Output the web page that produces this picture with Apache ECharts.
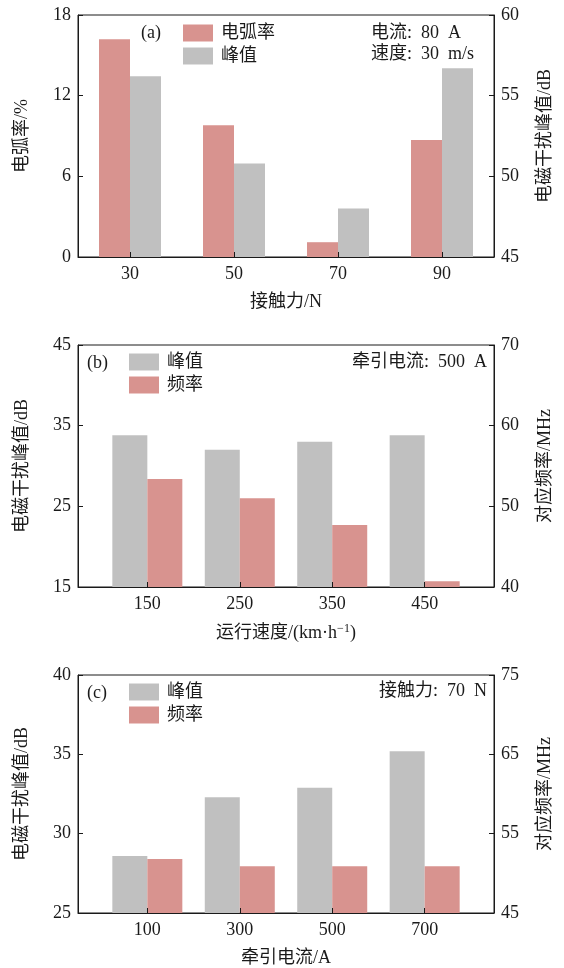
<!DOCTYPE html>
<html>
<head>
<meta charset="utf-8">
<script src="https://cdn.jsdelivr.net/npm/echarts@6/dist/echarts.min.js"></script>
<style>
  html, body { margin: 0; padding: 0; background: #fff; }
  #chart { width: 564px; height: 968px; }
</style>
</head>
<body>
<div id="chart"></div>
<script>
// (a) arc rate and EMI peak vs. contact force
const forceCats = ['30', '50', '70', '90'];
const arcRate = [16.2, 9.8, 1.1, 8.7];
const peakA = [56.2, 50.8, 48.0, 56.7];

// (b) EMI peak and corresponding frequency vs. running speed
const speeds = [150, 250, 350, 450];
const peakB = [33.8, 32.0, 33.0, 33.8];
const freqB = [53.4, 51.0, 47.7, 40.7];

// (c) EMI peak and corresponding frequency vs. traction current
const currents = [100, 300, 500, 700];
const peakC = [28.6, 32.3, 32.9, 35.2];
const freqC = [51.8, 50.9, 50.9, 50.9];

const RED = '#d8938f';
const GREY = '#c0c0c0';
const INK = '#1a1a1a';
const FONT = "'Liberation Serif', 'Noto Sans CJK SC', serif";
const FS = 18;
const SP = '  '; // wide word space, as in the typeset notes

const chart = echarts.init(document.getElementById('chart'), null, { renderer: 'canvas' });

const gridTops = [15, 345, 675];
const grids = gridTops.map(t => ({
  left: 78, right: 70, top: t, height: 242,
  show: true, borderColor: INK, borderWidth: 1, backgroundColor: 'transparent'
}));

function yAxis(gi, pos, min, max, interval, name, nameGap) {
  return {
    type: 'value', gridIndex: gi, position: pos, min, max, interval, z: 10,
    name, nameLocation: 'middle', nameGap,
    nameTextStyle: { fontFamily: FONT, fontSize: FS, color: INK },
    axisLine: { show: true, onZero: false, lineStyle: { color: INK, width: 1 } },
    axisTick: { show: true, inside: true, length: 5, lineStyle: { color: INK } },
    axisLabel: { fontFamily: FONT, fontSize: FS, color: INK, margin: 7 },
    splitLine: { show: false }
  };
}

const xBase = {
  z: 10, nameLocation: 'middle', nameGap: 36,
  nameTextStyle: { fontFamily: FONT, fontSize: FS, color: INK,
    rich: { sup: { fontFamily: FONT, fontSize: 12, color: INK, verticalAlign: 'top', padding: [0, 0, 8, 0] } } },
  axisLine: { show: true, onZero: false, lineStyle: { color: INK, width: 1 } },
  axisLabel: { fontFamily: FONT, fontSize: FS, color: INK, margin: 8 },
  splitLine: { show: false }
};

const xAxes = [
  Object.assign({}, xBase, {
    type: 'category', gridIndex: 0, data: forceCats, name: '接触力/N',
    axisTick: { show: true, inside: true, length: 5, alignWithLabel: true, lineStyle: { color: INK } }
  }),
  Object.assign({}, xBase, {
    type: 'value', gridIndex: 1, min: 75, max: 525, name: '运行速度/(km·h{sup|−1})',
    axisLabel: Object.assign({}, xBase.axisLabel, { customValues: speeds }),
    axisTick: { show: true, inside: true, length: 5, customValues: speeds, lineStyle: { color: INK } }
  }),
  Object.assign({}, xBase, {
    type: 'value', gridIndex: 2, min: -50, max: 850, name: '牵引电流/A',
    axisLabel: Object.assign({}, xBase.axisLabel, { customValues: currents }),
    axisTick: { show: true, inside: true, length: 5, customValues: currents, lineStyle: { color: INK } }
  })
];

const yAxes = [
  yAxis(0, 'left', 0, 18, 6, '电弧率/%', 47),
  yAxis(0, 'right', 45, 60, 5, '电磁干扰峰值/dB', 42),
  yAxis(1, 'left', 15, 45, 10, '电磁干扰峰值/dB', 47),
  yAxis(1, 'right', 40, 70, 10, '对应频率/MHz', 42),
  yAxis(2, 'left', 25, 40, 5, '电磁干扰峰值/dB', 47),
  yAxis(2, 'right', 45, 75, 10, '对应频率/MHz', 42)
];

function bar(name, color, xi, yi, data, width) {
  return {
    type: 'bar', name, xAxisIndex: xi, yAxisIndex: yi, data,
    barWidth: width, barGap: '0%', itemStyle: { color }, silent: true, z: 2
  };
}
const pairs = (xs, ys) => xs.map((x, i) => [x, ys[i]]);

const series = [
  bar('电弧率', RED, 0, 0, arcRate, 31),
  bar('峰值', GREY, 0, 1, peakA, 31),
  bar('峰值', GREY, 1, 2, pairs(speeds, peakB), 35),
  bar('频率', RED, 1, 3, pairs(speeds, freqB), 35),
  bar('峰值', GREY, 2, 4, pairs(currents, peakC), 35),
  bar('频率', RED, 2, 5, pairs(currents, freqC), 35)
];

function legend(left, top, names) {
  return {
    orient: 'vertical', left, top, data: names, icon: 'rect',
    itemWidth: 30, itemHeight: 17, itemGap: 5, selectedMode: false, padding: 0,
    textStyle: { fontFamily: FONT, fontSize: FS, color: INK, padding: [0, 0, 0, 3] }
  };
}

function label(text, x, y, align) {
  return {
    type: 'text', x, y, silent: true,
    style: { text, font: FS + 'px ' + FONT, fill: INK, align, verticalAlign: 'middle' }
  };
}

chart.setOption({
  animation: false,
  grid: grids,
  xAxis: xAxes,
  yAxis: yAxes,
  series,
  legend: [
    legend(183, 24, ['电弧率', '峰值']),
    legend(129, 353, ['峰值', '频率']),
    legend(129, 683, ['峰值', '频率'])
  ],
  graphic: [
    label('(a)', 141, 33, 'left'),
    label('电流:' + SP + '80' + SP + 'A', 371, 33, 'left'),
    label('速度:' + SP + '30' + SP + 'm/s', 371, 54, 'left'),
    label('(b)', 87, 363, 'left'),
    label('牵引电流:' + SP + '500' + SP + 'A', 487, 362, 'right'),
    label('(c)', 87, 693, 'left'),
    label('接触力:' + SP + '70' + SP + 'N', 487, 691, 'right')
  ]
});
</script>
</body>
</html>
